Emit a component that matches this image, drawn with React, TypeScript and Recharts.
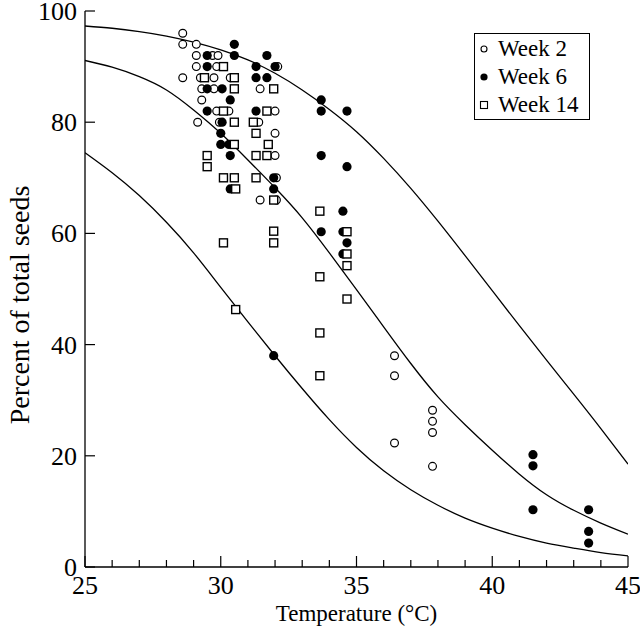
import React from 'react';
import { ComposedChart, XAxis, YAxis, Line, Scatter, Legend } from 'recharts';

const curveTemps = [25, 26, 27, 28, 29, 30, 31, 32, 33, 34, 35, 36, 37, 38, 39, 40, 41, 42, 43, 44, 45];
const curveUpper = [97.3, 96.9, 96.3, 95.5, 94.4, 93.0, 91.2, 88.8, 85.8, 82.3, 78.3, 73.5, 68.1, 62.2, 56.0, 49.7, 43.4, 37.2, 31.1, 24.9, 18.5];
const curveMiddle = [91.1, 89.9, 88.2, 85.8, 82.2, 78.0, 73.2, 68.2, 62.8, 56.5, 49.9, 43.2, 36.6, 30.6, 25.6, 21.0, 16.7, 13.0, 10.2, 7.9, 5.9];
const curveLower = [74.5, 70.9, 66.8, 62.0, 56.5, 50.3, 44.1, 38.0, 32.1, 26.5, 21.5, 17.3, 13.9, 11.1, 8.8, 7.0, 5.5, 4.3, 3.4, 2.6, 2.0];

const week2Temp = [28.6, 28.6, 29.1, 29.1, 29.7, 29.9, 29.1, 29.85, 32.1, 28.6, 29.25, 29.75, 30.35, 29.3, 29.75, 31.45, 29.3, 29.85, 30.3, 32.0, 29.15, 29.95, 31.4, 32.0, 32.0, 31.45, 32.05, 32.05, 36.4, 36.4, 36.4, 37.8, 37.8, 37.8, 37.8];
const week2Pct = [96, 94, 94, 92, 92, 92, 90, 90, 90, 88, 88, 88, 88, 86, 86, 86, 84, 82, 82, 82, 80, 80, 80, 78, 74, 66, 66, 70, 38, 34.4, 22.3, 28.2, 26.2, 24.2, 18.1];

const week6Temp = [30.5, 29.5, 30.5, 31.7, 29.5, 31.3, 32.0, 31.3, 31.7, 29.5, 30.05, 30.35, 29.5, 31.3, 30.05, 30.0, 30.0, 30.3, 30.35, 31.95, 30.35, 31.95, 31.95, 33.7, 33.7, 34.65, 33.7, 34.65, 34.5, 33.7, 34.5, 34.65, 34.5, 41.5, 41.5, 41.5, 43.55, 43.55, 43.55];
const week6Pct = [94, 92, 92, 92, 90, 90, 90, 88, 88, 86, 86, 84, 82, 82, 80, 78, 76, 76, 74, 70, 68, 68, 38, 84, 82, 82, 74, 72, 64, 60.3, 60.3, 58.3, 56.3, 20.2, 18.2, 10.3, 10.3, 6.4, 4.3];

const week14Temp = [30.1, 29.4, 30.5, 30.5, 31.95, 30.1, 31.7, 30.5, 31.2, 31.3, 30.5, 31.75, 29.5, 31.3, 31.7, 29.5, 30.1, 30.5, 31.3, 30.55, 31.95, 31.95, 30.1, 31.95, 30.55, 33.65, 34.65, 34.65, 34.65, 33.65, 34.65, 33.65, 33.65];
const week14Pct = [90, 88, 88, 86, 86, 82, 82, 80, 80, 78, 76, 76, 74, 74, 74, 72, 70, 70, 70, 68, 66, 60.4, 58.3, 58.3, 46.3, 64, 60.3, 56.3, 54.2, 52.2, 48.2, 42.1, 34.4];

const xTicks = [25, 26, 27, 28, 29, 30, 31, 32, 33, 34, 35, 36, 37, 38, 39, 40, 41, 42, 43, 44, 45];
const yTicks = [0, 20, 40, 60, 80, 100];
const seriesNames = ['Week 2', 'Week 6', 'Week 14'];
const xTitle = 'Temperature (°C)';
const yTitle = 'Percent of total seeds';

const FONT = '"Liberation Serif", "Times New Roman", serif';

const toPoints = (xs: number[], ys: number[]) => xs.map((x, i) => ({ x, y: ys[i] }));
const upperData = toPoints(curveTemps, curveUpper);
const middleData = toPoints(curveTemps, curveMiddle);
const lowerData = toPoints(curveTemps, curveLower);
const week2Data = toPoints(week2Temp, week2Pct);
const week6Data = toPoints(week6Temp, week6Pct);
const week14Data = toPoints(week14Temp, week14Pct);

const OpenCircle = (p: any) => (
  <circle cx={p.cx} cy={p.cy} r={3.9} fill="#fff" stroke="#000" strokeWidth={1.2} />
);
const FilledCircle = (p: any) => <circle cx={p.cx} cy={p.cy} r={4.6} fill="#000" stroke="none" />;
const OpenSquare = (p: any) => (
  <rect x={p.cx - 4} y={p.cy - 4} width={8} height={8} fill="#fff" stroke="#000" strokeWidth={1.4} />
);

const XTick = (p: any) => {
  const v = p.payload.value;
  const major = v % 5 === 0;
  return (
    <g>
      <line x1={p.x} x2={p.x} y1={p.y} y2={p.y - (major ? 11 : 7)} stroke="#000" strokeWidth={1.2} />
      {major && (
        <text x={p.x} y={p.y + 27} textAnchor="middle" fontSize={26} fontFamily={FONT} fill="#000">
          {v}
        </text>
      )}
    </g>
  );
};

const YTick = (p: any) => {
  const v = p.payload.value;
  return (
    <g>
      <line x1={p.x} x2={p.x + 10} y1={p.y} y2={p.y} stroke="#000" strokeWidth={1.2} />
      <text x={p.x - 8} y={p.y + 9} textAnchor="end" fontSize={26} fontFamily={FONT} fill="#000">
        {v}
      </text>
    </g>
  );
};

const YTitle = () => (
  <text
    transform="translate(19, 305) rotate(-90)"
    textAnchor="middle"
    dominantBaseline="central"
    fontSize={28}
    fontFamily={FONT}
    fill="#000"
  >
    {yTitle}
  </text>
);

const LegendBox = () => {
  const markers = [
    <circle cx={7} cy={7} r={3} fill="#fff" stroke="#000" strokeWidth={1.1} />,
    <circle cx={7} cy={7} r={3.6} fill="#000" />,
    <rect x={3.5} y={3.5} width={7} height={7} fill="#fff" stroke="#000" strokeWidth={1.1} />,
  ];
  return (
    <div
      style={{
        border: '1.3px solid #000',
        boxSizing: 'border-box',
        width: 116,
        height: 87,
        paddingTop: 1,
        background: '#fff',
        fontFamily: FONT,
        fontSize: 23,
        color: '#000',
      }}
    >
      {seriesNames.map((name, i) => (
        <div key={name} style={{ display: 'flex', alignItems: 'center', height: 28, lineHeight: '28px' }}>
          <svg width={14} height={14} style={{ marginLeft: 2, marginRight: 7 }}>
            {markers[i]}
          </svg>
          <span>{name}</span>
        </div>
      ))}
    </div>
  );
};

export default function App() {
  return (
    <div style={{ position: 'absolute', left: 0, top: 0, width: 640, height: 637, background: '#fff' }}>
      <ComposedChart width={640} height={637} margin={{ top: 11, right: 12, bottom: 0, left: 0 }}>
        <XAxis
          type="number"
          dataKey="x"
          domain={[25, 45]}
          ticks={xTicks}
          interval={0}
          height={70}
          tickSize={0}
          tickMargin={0}
          tickLine={false}
          tick={<XTick />}
          axisLine={{ stroke: '#000', strokeWidth: 1.3 }}
          allowDataOverflow
          label={{
            value: xTitle,
            position: 'insideBottom',
            offset: 16,
            fontSize: 23,
            fontFamily: FONT,
            fill: '#000',
          }}
        />
        <YAxis
          type="number"
          dataKey="y"
          domain={[0, 100]}
          ticks={yTicks}
          interval={0}
          width={85}
          tickSize={0}
          tickMargin={0}
          tickLine={false}
          tick={<YTick />}
          axisLine={{ stroke: '#000', strokeWidth: 1.3 }}
          allowDataOverflow
          label={<YTitle />}
        />
        <Line data={upperData} dataKey="y" type="natural" stroke="#000" strokeWidth={1.3} dot={false} activeDot={false} isAnimationActive={false} legendType="none" />
        <Line data={middleData} dataKey="y" type="natural" stroke="#000" strokeWidth={1.3} dot={false} activeDot={false} isAnimationActive={false} legendType="none" />
        <Line data={lowerData} dataKey="y" type="natural" stroke="#000" strokeWidth={1.3} dot={false} activeDot={false} isAnimationActive={false} legendType="none" />
        <Scatter name={seriesNames[0]} data={week2Data} dataKey="y" shape={OpenCircle} isAnimationActive={false} />
        <Scatter name={seriesNames[1]} data={week6Data} dataKey="y" shape={FilledCircle} isAnimationActive={false} />
        <Scatter name={seriesNames[2]} data={week14Data} dataKey="y" shape={OpenSquare} isAnimationActive={false} />
        <Legend
          layout="horizontal"
          verticalAlign="middle"
          align="center"
          content={<LegendBox />}
          wrapperStyle={{ position: 'absolute', left: 474, top: 33, width: 116, height: 87 }}
        />
      </ComposedChart>
    </div>
  );
}
